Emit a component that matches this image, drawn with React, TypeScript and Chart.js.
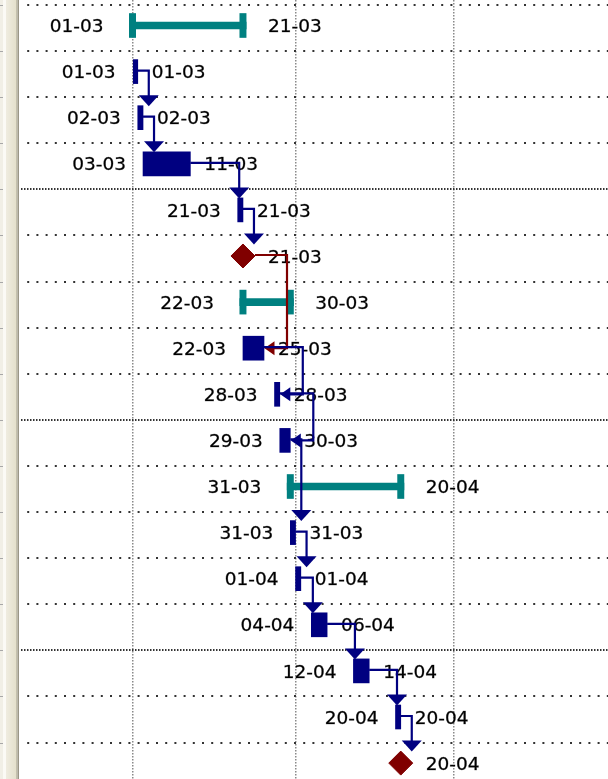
import { useEffect, useRef } from 'react';
import { Chart, registerables } from 'chart.js';

Chart.register(...registerables);

// ---- data ----
const rowKinds = [
  'summary', 'task', 'task', 'task', 'task', 'milestone',
  'summary', 'task', 'task', 'task',
  'summary', 'task', 'task', 'task', 'task', 'task', 'milestone',
];
const startDates = [
  '01-03', '01-03', '02-03', '03-03', '21-03', '21-03',
  '22-03', '22-03', '28-03', '29-03',
  '31-03', '31-03', '01-04', '04-04', '12-04', '20-04', '20-04',
];
const finishDates = [
  '21-03', '01-03', '02-03', '11-03', '21-03', '21-03',
  '30-03', '25-03', '28-03', '30-03',
  '20-04', '31-03', '01-04', '06-04', '14-04', '20-04', '20-04',
];
const linkFrom = [1, 2, 3, 4, 5, 7, 8, 9, 11, 12, 13, 14, 15];
const linkTo = [2, 3, 4, 5, 7, 8, 9, 11, 12, 13, 14, 15, 16];
const linkTypes = ['FS', 'FS', 'FS', 'FS', 'FF', 'FF', 'FF', 'FS', 'FS', 'FS', 'FS', 'FS', 'FS'];
const monthGridDates = ['01-03', '01-04', '01-05'];
const majorRowLines = [4, 9, 14];

// ---- styles ----
const NAVY = '#000080';
const TEAL = '#008080';
const MAROON = '#800000';
const FONT = '18.5px "DejaVu Sans", sans-serif';
const CAP = 0.6;
const SEP_OFFSET = -0.4447;

const monthOffset: Record<number, number> = { 3: 0, 4: 31, 5: 61 };
function dayIndex(s: string): number {
  const [d, m] = s.split('-').map(Number);
  return monthOffset[m] + d - 1;
}

const rows = rowKinds.map((kind, i) => ({
  kind,
  i,
  s: dayIndex(startDates[i]),
  f: dayIndex(finishDates[i]) + 1,
}));

const taskBars = rows.filter((r) => r.kind === 'task').map((r) => ({ y: r.i, x: [r.s, r.f] }));
const summaryMain = rows
  .filter((r) => r.kind === 'summary')
  .map((r) => ({ y: r.i, x: [r.s - CAP, r.f + CAP] }));
const summaryCaps = rows
  .filter((r) => r.kind === 'summary')
  .flatMap((r) => [
    { y: r.i, x: [r.s - CAP, r.s + CAP] },
    { y: r.i, x: [r.f - CAP, r.f + CAP] },
  ]);
const milestonePts = rows.filter((r) => r.kind === 'milestone').map((r) => ({ x: r.f, y: r.i }));

const rowSeparators = rowKinds.map((_, k) => k + SEP_OFFSET);

const overlay = {
  id: 'ganttOverlay',
  beforeDraw(chart: any) {
    const { ctx, width, height } = chart;
    const ys = chart.scales.y;
    ctx.save();
    ctx.fillStyle = '#ffffff';
    ctx.fillRect(0, 0, width, height);
    ctx.fillStyle = '#f1efe6';
    ctx.fillRect(0, 0, 3, height);
    ctx.fillStyle = '#fbfaf5';
    ctx.fillRect(3, 0, 3, height);
    const g = ctx.createLinearGradient(6, 0, 16, 0);
    g.addColorStop(0, '#efece0');
    g.addColorStop(1, '#e4e0cc');
    ctx.fillStyle = g;
    ctx.fillRect(6, 0, 10, height);
    ctx.fillStyle = '#c4c0ac';
    ctx.fillRect(16, 0, 1.5, height);
    ctx.fillStyle = '#9a9686';
    ctx.fillRect(17.5, 0, 1.5, height);
    ctx.fillStyle = '#a8a8a8';
    rowSeparators.forEach((v) => {
      const yp = ys.getPixelForValue(v);
      ctx.fillRect(0, Math.round(yp), 3, 1);
    });
    ctx.restore();
  },
  afterDatasetsDraw(chart: any) {
    const { ctx } = chart;
    const xs = chart.scales.x;
    const ys = chart.scales.y;
    ctx.save();
    ctx.font = FONT;
    ctx.fillStyle = '#000';
    ctx.strokeStyle = 'rgba(0,0,0,0.55)';
    ctx.lineWidth = 0.5;
    ctx.textBaseline = 'alphabetic';
    const put = (t: string, x: number, y: number) => {
      ctx.fillText(t, x, y);
      ctx.strokeText(t, x, y);
    };
    rows.forEach((r) => {
      const yc = ys.getPixelForValue(r.i) + 6.7;
      const xs0 = xs.getPixelForValue(r.s);
      const xf = xs.getPixelForValue(r.f);
      if (r.kind === 'milestone') {
        ctx.textAlign = 'left';
        put(finishDates[r.i], xf + 25, yc);
        return;
      }
      const gapL = r.kind === 'summary' ? 29 : 17;
      const gapR = r.kind === 'summary' ? 25 : 14;
      ctx.textAlign = 'right';
      put(startDates[r.i], xs0 - gapL, yc);
      ctx.textAlign = 'left';
      put(finishDates[r.i], xf + gapR, yc);
    });

    ctx.lineWidth = 2.2;
    ctx.lineJoin = 'miter';
    linkFrom.forEach((p, k) => {
      const a = rows[p];
      const b = rows[linkTo[k]];
      const color = a.kind === 'milestone' ? MAROON : NAVY;
      ctx.strokeStyle = color;
      ctx.fillStyle = color;
      const aEnd = xs.getPixelForValue(a.f);
      const aOut = a.kind === 'milestone' ? aEnd + 12 : aEnd;
      const ay = ys.getPixelForValue(a.i) - 1;
      const by = ys.getPixelForValue(b.i);
      ctx.beginPath();
      if (linkTypes[k] === 'FS') {
        const bStart = xs.getPixelForValue(b.kind === 'milestone' ? b.f : b.s);
        const cx = Math.max(aEnd + 11, bStart + 1.5);
        const tip = by - 11.5;
        ctx.moveTo(aOut, ay);
        ctx.lineTo(cx, ay);
        ctx.lineTo(cx, tip - 9);
        ctx.stroke();
        ctx.beginPath();
        ctx.moveTo(cx - 10, tip - 11);
        ctx.lineTo(cx + 10, tip - 11);
        ctx.lineTo(cx, tip);
        ctx.closePath();
        ctx.fill();
      } else {
        const bEnd = xs.getPixelForValue(b.f);
        const cx = Math.max(aEnd, bEnd) + 23;
        ctx.moveTo(aOut, ay);
        ctx.lineTo(cx, ay);
        ctx.lineTo(cx, by);
        ctx.lineTo(bEnd + 9, by);
        ctx.stroke();
        ctx.beginPath();
        ctx.moveTo(bEnd + 0.5, by);
        ctx.lineTo(bEnd + 10.5, by - 7);
        ctx.lineTo(bEnd + 10.5, by + 7);
        ctx.closePath();
        ctx.fill();
      }
    });
    ctx.restore();
  },
};

export default function App() {
  const ref = useRef<HTMLCanvasElement | null>(null);

  useEffect(() => {
    if (!ref.current) return;
    const chart = new Chart(ref.current, {
      type: 'bar',
      data: {
        datasets: [
          {
            type: 'bar',
            label: 'Summary',
            data: summaryMain as any,
            backgroundColor: TEAL,
            barThickness: 7,
            grouped: false,
            borderWidth: 0,
          },
          {
            type: 'bar',
            label: 'Summary ends',
            data: summaryCaps as any,
            backgroundColor: TEAL,
            barThickness: 24,
            grouped: false,
            borderWidth: 0,
          },
          {
            type: 'bar',
            label: 'Tasks',
            data: taskBars as any,
            backgroundColor: NAVY,
            barThickness: 24,
            grouped: false,
            borderWidth: 0,
          },
          {
            type: 'scatter',
            label: 'Milestones',
            data: milestonePts as any,
            pointStyle: 'rectRot',
            pointRadius: 12,
            backgroundColor: MAROON,
            borderColor: MAROON,
            borderWidth: 1,
            clip: false,
          } as any,
        ],
      },
      options: {
        indexAxis: 'y',
        animation: false,
        responsive: false,
        events: [],
        layout: { autoPadding: false, padding: { left: 20, right: 0, top: 0, bottom: 0 } },
        plugins: { legend: { display: false }, tooltip: { enabled: false } },
        scales: {
          x: {
            type: 'linear',
            min: -21.39,
            max: 90.4,
            bounds: 'data',
            offset: false,
            ticks: { display: false },
            grid: { color: '#8a8a8a', lineWidth: 1.5, drawTicks: false, offset: false },
            border: { display: false, dash: [1.5, 1.5] },
            afterBuildTicks: (scale: any) => {
              scale.ticks = monthGridDates.map((d) => ({ value: dayIndex(d) }));
            },
            afterFit: (scale: any) => {
              scale.height = 0;
            },
          },
          y: {
            type: 'linear',
            reverse: true,
            min: -0.5531,
            max: 16.3449,
            bounds: 'data',
            offset: false,
            ticks: { display: false },
            grid: { color: '#333333', lineWidth: 2, drawTicks: false, offset: false },
            border: {
              display: false,
              dash: (ctx: any) => {
                const v = ctx.tick ? ctx.tick.value : 0;
                const k = Math.round(v - SEP_OFFSET);
                return majorRowLines.includes(k) ? [1.5, 1.5] : [2, 7.2];
              },
              dashOffset: 2,
            },
            afterBuildTicks: (scale: any) => {
              scale.ticks = rowSeparators.map((v) => ({ value: v }));
            },
            afterFit: (scale: any) => {
              scale.width = 0;
            },
          },
        } as any,
      },
      plugins: [overlay as any],
    });
    return () => chart.destroy();
  }, []);

  return (
    <div style={{ position: 'absolute', left: 0, top: 0, width: 608, height: 779, background: '#fff' }}>
      <canvas ref={ref} width={608} height={779} style={{ display: 'block', width: 608, height: 779 }} />
    </div>
  );
}
